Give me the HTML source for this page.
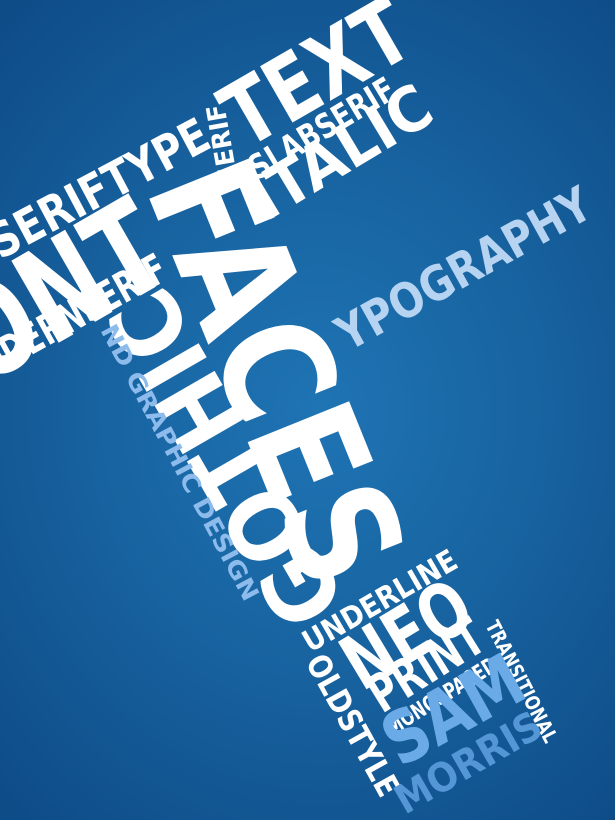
<!DOCTYPE html>
<html><head><meta charset="utf-8"><style>
html,body{margin:0;padding:0;width:615px;height:820px;overflow:hidden}
#poster{width:615px;height:820px;background:radial-gradient(ellipse 75% 65% at 52% 50%,#1f74b4 0%,#17629f 50%,#0e4c88 100%)}
svg text{font-family:"DejaVu Sans","Liberation Sans",sans-serif;font-weight:bold}
</style></head><body>
<div id="poster">
<svg width="615" height="820" viewBox="0 0 615 820">
<g fill="#ffffff">
<text transform="translate(245,150) rotate(-30)" font-size="89" textLength="200" lengthAdjust="spacingAndGlyphs">TEXT</text>
<text transform="translate(266,222) rotate(-31)" font-size="62" textLength="200" lengthAdjust="spacingAndGlyphs">ITALIC</text>
<text transform="translate(242,190) rotate(-31)" font-size="34" textLength="182" lengthAdjust="spacingAndGlyphs">SSLABSERIF</text>
<text transform="translate(238,182) rotate(-100)" font-size="26" textLength="80" lengthAdjust="spacingAndGlyphs">SERIF</text>
<text transform="translate(0,260) rotate(-28)" font-size="48" textLength="242" lengthAdjust="spacingAndGlyphs">SERIFTYPE</text>
<text transform="translate(-75,420) rotate(-30)" font-size="130" textLength="290" lengthAdjust="spacingAndGlyphs">FONT</text>
<text transform="translate(-37,393) rotate(-29)" font-size="42" textLength="237" lengthAdjust="spacingAndGlyphs">MODERNSERIF</text>
<text transform="translate(145,188) rotate(68)" font-size="150" textLength="440" lengthAdjust="spacingAndGlyphs">FACES</text>
<text transform="translate(348,602) rotate(-120)" font-size="95" textLength="370" lengthAdjust="spacingAndGlyphs">GOTHIC</text>
<text transform="translate(310,653) rotate(-30)" font-size="30" textLength="173" lengthAdjust="spacingAndGlyphs">UNDERLINE</text>
<text transform="translate(362,692) rotate(-31)" font-size="76" textLength="136" lengthAdjust="spacingAndGlyphs">NEO</text>
<text transform="translate(305,662) rotate(61)" font-size="32" textLength="157" lengthAdjust="spacingAndGlyphs">OLDSTYLE</text>
<text transform="translate(382,714) rotate(-32)" font-size="52" textLength="126" lengthAdjust="spacingAndGlyphs">PRINT</text>
<text transform="translate(392,736) rotate(-32)" font-size="22" textLength="126" lengthAdjust="spacingAndGlyphs">MONOSPACED</text>
<text transform="translate(485,625) rotate(63)" font-size="20" textLength="134" lengthAdjust="spacingAndGlyphs">TRANSITIONAL</text>
</g>
<g>
<text transform="translate(348,352) rotate(-29)" font-size="48" textLength="283" lengthAdjust="spacingAndGlyphs" fill="#b6d3f1">YPOGRAPHY</text>
<text transform="translate(100,330) rotate(62)" font-size="24" textLength="309" lengthAdjust="spacingAndGlyphs" fill="#8cbbec">ND GRAPHIC DESIGN</text>
<text transform="translate(400,768) rotate(-29)" font-size="72" textLength="149" lengthAdjust="spacingAndGlyphs" fill="#6aaae6">SAM</text>
<text transform="translate(405,815) rotate(-30)" font-size="40" textLength="162" lengthAdjust="spacingAndGlyphs" fill="#5597d6">MORRIS</text>
</g>
</svg>
</div>
</body></html>
